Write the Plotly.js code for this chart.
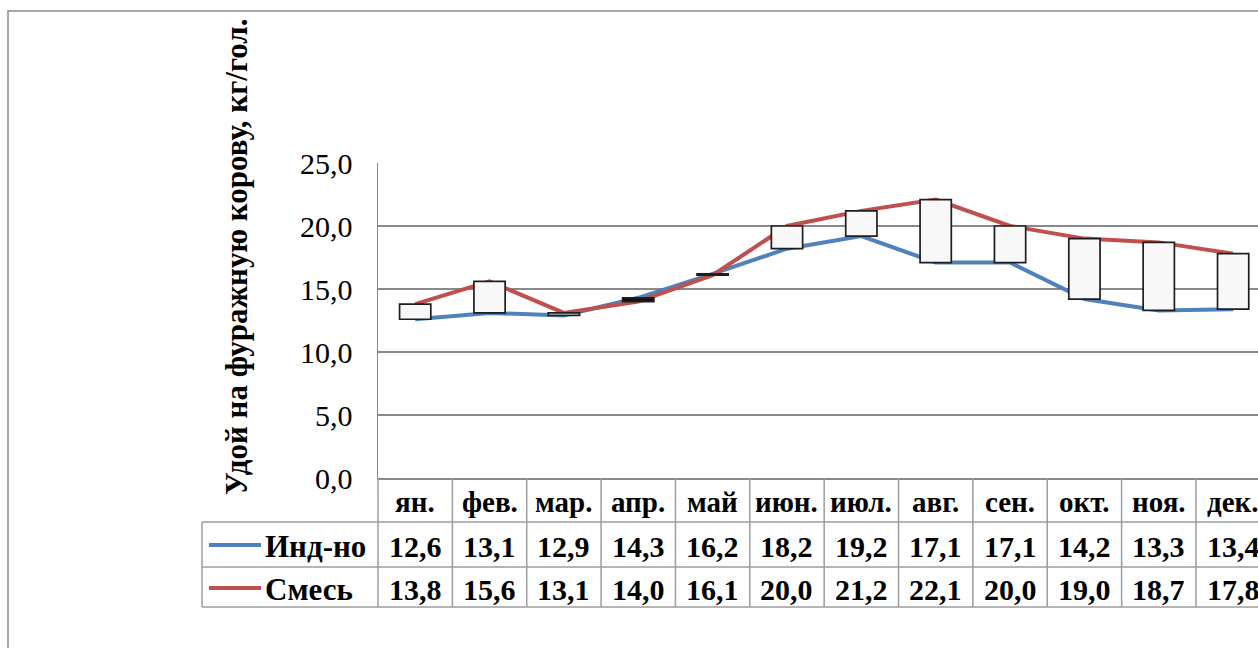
<!DOCTYPE html>
<html>
<head>
<meta charset="utf-8">
<script src="https://cdn.plot.ly/plotly-3.0.1.min.js"></script>
<style>
html, body { margin:0; padding:0; overflow:hidden; background:#fff; }
#chart { width:1258px; height:648px; }
</style>
</head>
<body>
<div id="chart"></div>
<script>
const months = ['ян.', 'фев.', 'мар.', 'апр.', 'май', 'июн.', 'июл.', 'авг.', 'сен.', 'окт.', 'ноя.', 'дек.'];
const seriesNames = ['Инд-но', 'Смесь'];
const indiv = [12.6, 13.1, 12.9, 14.3, 16.2, 18.2, 19.2, 17.1, 17.1, 14.2, 13.3, 13.4];
const mix = [13.8, 15.6, 13.1, 14.0, 16.1, 20.0, 21.2, 22.1, 20.0, 19.0, 18.7, 17.8];
const seriesColors = ['#4f81bd', '#c0504d'];
const yTitle = 'Удой на фуражную корову, кг/гол.';

const W = 1258, H = 648;
const px = v => v / W;
const py = v => 1 - v / H;
const FONT = 'Liberation Serif';
const gridCol = '#8a8a8a';
const tableCol = '#9c9c9c';

const xIdx = months.map((m, i) => i);
const fmt = v => v.toFixed(1).replace('.', ',');

const traces = [
  { x: xIdx, y: indiv, type: 'scatter', mode: 'lines', name: seriesNames[0],
    line: { color: seriesColors[0], width: 4 }, xaxis: 'x', yaxis: 'y', showlegend: false, hoverinfo: 'skip' },
  { x: xIdx, y: mix, type: 'scatter', mode: 'lines', name: seriesNames[1],
    line: { color: seriesColors[1], width: 4 }, xaxis: 'x', yaxis: 'y', showlegend: false, hoverinfo: 'skip' },
  { x: xIdx, base: indiv, y: mix.map((v, i) => v - indiv[i]), type: 'bar', width: 0.42,
    marker: { color: mix.map((v, i) => v >= indiv[i] ? '#f8f8f8' : '#111111'),
              line: { color: '#1e1e1e', width: 1.7 } },
    xaxis: 'x2', yaxis: 'y2', showlegend: false, hoverinfo: 'skip' }
];

const xRange = [-0.5, -0.5 + (W - 378) / 74.36];
const yDom = [py(478), py(163)];

const shapes = [];
const annotations = [];

// outer chart border
shapes.push({ type: 'rect', xref: 'paper', yref: 'paper', x0: px(8), x1: px(1300), y0: py(700), y1: py(11),
  line: { color: '#8c8c8c', width: 1.5 } });

// table horizontal lines
[522, 567, 607].forEach(yy => shapes.push({ type: 'line', xref: 'paper', yref: 'paper',
  x0: px(202), x1: px(1300), y0: py(yy), y1: py(yy), line: { color: tableCol, width: 1.5 } }));
// table left borders
shapes.push({ type: 'line', xref: 'paper', yref: 'paper', x0: px(202), x1: px(202), y0: py(522), y1: py(607),
  line: { color: tableCol, width: 1.5 } });
shapes.push({ type: 'line', xref: 'paper', yref: 'paper', x0: px(378), x1: px(378), y0: py(478), y1: py(607),
  line: { color: tableCol, width: 1.5 } });
// category separators
months.forEach((m, i) => shapes.push({ type: 'line', xref: 'x', yref: 'paper', x0: i + 0.5, x1: i + 0.5,
  y0: py(478), y1: py(607), line: { color: tableCol, width: 1.5 } }));

// legend keys in table
const rowY = [545, 588];
seriesNames.forEach((n, k) => {
  shapes.push({ type: 'line', xref: 'paper', yref: 'paper', x0: px(209), x1: px(261), y0: py(rowY[k]), y1: py(rowY[k]),
    line: { color: seriesColors[k], width: 4 } });
  annotations.push({ xref: 'paper', yref: 'paper', x: px(263), y: py(rowY[k] + 1), xanchor: 'left', yanchor: 'middle',
    text: n, showarrow: false, font: { family: FONT, size: 31, color: '#000', weight: 'bold' } });
});

// header row
months.forEach((m, i) => annotations.push({ xref: 'x', yref: 'paper', x: i, y: py(502), xanchor: 'center', yanchor: 'middle',
  text: m, showarrow: false, font: { family: FONT, size: 29, color: '#000', weight: 'bold' } }));
// data rows
[indiv, mix].forEach((arr, k) => arr.forEach((v, i) => annotations.push({ xref: 'x', yref: 'paper', x: i,
  y: py(rowY[k] + 1), xanchor: 'center', yanchor: 'middle', text: fmt(v), showarrow: false,
  font: { family: FONT, size: 30, color: '#000', weight: 'bold' } })));

// y-axis title
annotations.push({ xref: 'paper', yref: 'paper', x: px(236), y: py(257), xanchor: 'center', yanchor: 'middle',
  text: yTitle, textangle: -90, showarrow: false, font: { family: FONT, size: 31, color: '#000', weight: 'bold' } });

const layout = {
  width: W, height: H,
  margin: { l: 0, r: 0, t: 0, b: 0 },
  paper_bgcolor: '#fff', plot_bgcolor: '#fff',
  separators: ', ',
  showlegend: false,
  barmode: 'overlay',
  font: { family: FONT },
  xaxis: { domain: [px(378), 1], range: xRange, showticklabels: false, ticks: '', showgrid: false,
    zeroline: false, showline: true, linecolor: gridCol, linewidth: 1.5, fixedrange: true },
  yaxis: { domain: yDom, range: [0, 25], dtick: 5, tick0: 0, tickformat: '.1f', showgrid: true,
    gridcolor: gridCol, gridwidth: 1.5, zeroline: false, showline: true, linecolor: gridCol, linewidth: 1.5,
    ticks: '', ticklabelstandoff: 18,
    tickfont: { family: FONT, size: 30, color: '#000' }, fixedrange: true },
  xaxis2: { overlaying: 'x', range: xRange, visible: false, fixedrange: true },
  yaxis2: { overlaying: 'y', range: [0, 25], visible: false, fixedrange: true },
  shapes: shapes,
  annotations: annotations
};

Plotly.newPlot('chart', traces, layout, { displayModeBar: false, staticPlot: true });
</script>
</body>
</html>
